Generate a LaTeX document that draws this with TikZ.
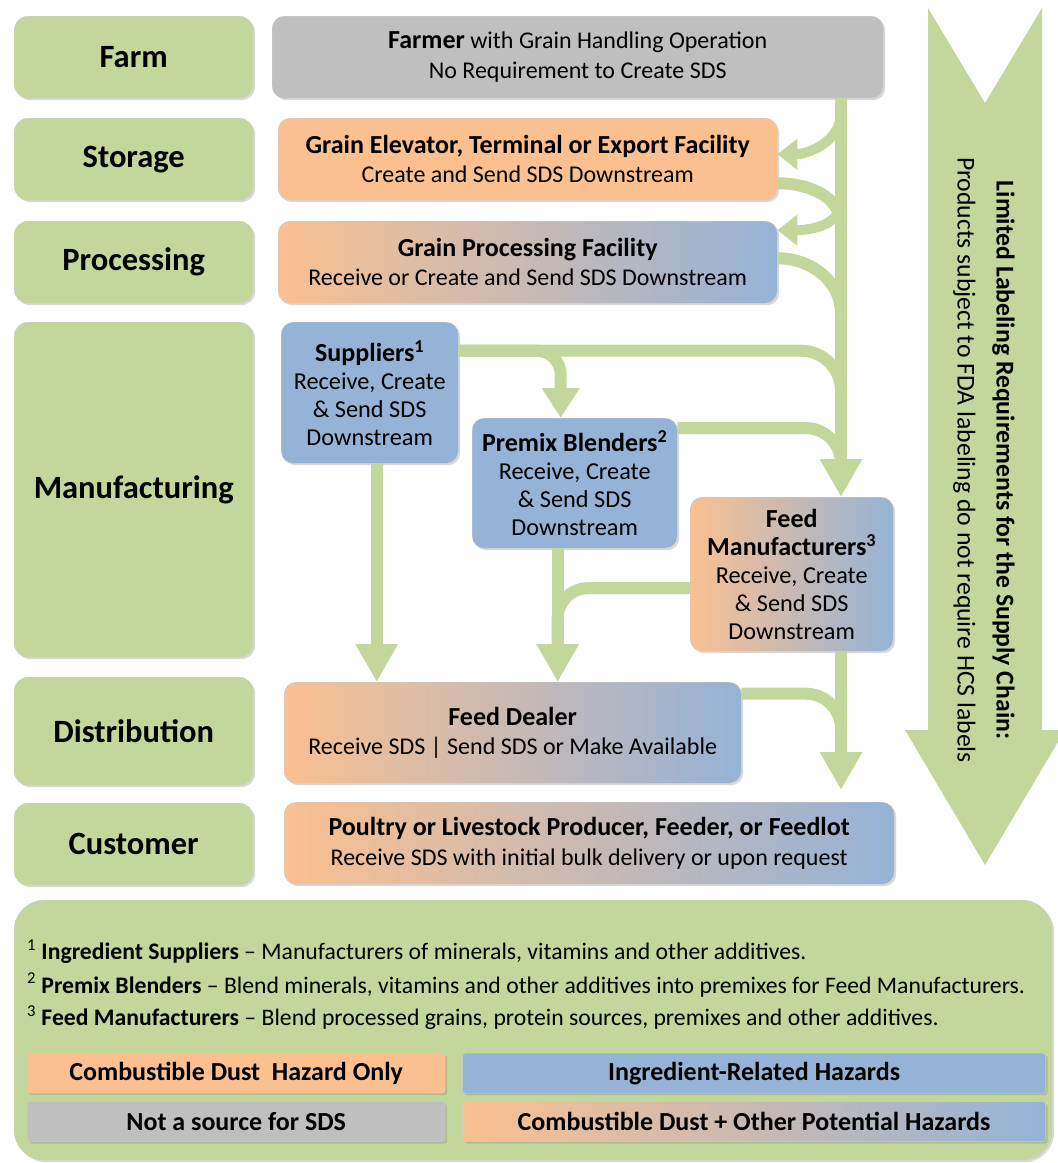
\documentclass[tikz,border=0pt]{standalone}
\usepackage{fontspec}
\setmainfont{Carlito}
\usetikzlibrary{positioning}
\usetikzlibrary{shadows}
\usetikzlibrary{arrows.meta}
\usetikzlibrary{calc}

\definecolor{stagegreen}{HTML}{C3D69B}
\definecolor{flowgreen}{HTML}{C3D69B}
\definecolor{dustorange}{HTML}{FAC090}
\definecolor{ingblue}{HTML}{95B3D7}
\definecolor{nosdsgray}{HTML}{BFBFBF}

\newcommand\hd[1]{{\fontsize{26}{29}\selectfont\bfseries #1}}

\tikzset{
  softshadow/.style={drop shadow={opacity=0.3, shadow xshift=2pt, shadow yshift=-2pt}},
  stage/.style={rectangle, draw=black!20, fill=stagegreen, rounded corners=14pt, minimum width=239pt, anchor=north west, font=\fontsize{32.5}{38}\selectfont\bfseries, softshadow},
  actor/.style={rectangle, draw=black!20, rounded corners=12pt, anchor=north west, align=center, inner sep=2pt, font=\fontsize{24}{29.5}\selectfont, softshadow},
  dustbox/.style={actor, fill=dustorange},
  ingbox/.style={actor, fill=ingblue},
  graybox/.style={actor, fill=nosdsgray},
  mixbox/.style={actor, left color=dustorange, right color=ingblue},
  keybox/.style={rectangle, draw=black!20, rounded corners=3pt, anchor=north west, minimum height=40pt, font=\fontsize{26}{30}\selectfont\bfseries, softshadow},
  note/.style={anchor=west, inner sep=0pt, font=\fontsize{23.7}{28}\selectfont},
  flowline/.style={draw=flowgreen, line width=12pt},
  flow/.style={flowline, -{Triangle[width=40pt,length=38pt]}},
  sideflow/.style={draw=flowgreen, line width=10pt, -{Triangle[width=30pt,length=20pt]}},
}

\begin{document}
\begin{tikzpicture}[x=1pt,y=1pt]

\newcommand\rowh{82pt}

\useasboundingbox (0,0) rectangle (1058,-1163);

% stages of the supply chain
\node at (14,-16) [stage, minimum height=\rowh] (farm) {Farm};
\node at (14,-118) [stage, minimum height=\rowh] (storage) {Storage};
\node at (14,-221) [stage, minimum height=\rowh] (processing) {Processing};
\node at (14,-322) [stage, minimum height=335pt] (manufacturing) {Manufacturing};
\node at (14,-677) [stage, minimum height=108pt] (distribution) {Distribution};
\node at (14,-803) [stage, minimum height=\rowh] (customer) {Customer};

% who does what
\node at (272,-16) [graybox, minimum width=611pt, minimum height=\rowh] (farmer) {\hd{Farmer} with Grain Handling Operation\\No Requirement to Create SDS};
\node at (278,-118) [dustbox, minimum width=499pt, minimum height=\rowh] (elevator) {\hd{Grain Elevator, Terminal or Export Facility}\\Create and Send SDS Downstream};
\node at (278,-221) [mixbox, minimum width=499pt, minimum height=\rowh] (grainproc) {\hd{Grain Processing Facility}\\Receive or Create and Send SDS Downstream};

\node at (281,-322) [ingbox, minimum width=177pt, minimum height=141pt, font=\fontsize{24.3}{28}\selectfont] (suppliers) {\hd{Suppliers\textsuperscript{1}}\\Receive, Create\\\& Send SDS\\Downstream};
\node at (472,-418) [ingbox, minimum width=205pt, minimum height=130pt, font=\fontsize{24.3}{28}\selectfont] (premix) {\hd{Premix Blenders\textsuperscript{2}}\\Receive, Create\\\& Send SDS\\Downstream};
\node at (690,-497) [mixbox, minimum width=203pt, minimum height=154pt, font=\fontsize{24.3}{28}\selectfont] (feedmfr) {\hd{Feed}\\\hd{Manufacturers\textsuperscript{3}}\\Receive, Create\\\& Send SDS\\Downstream};

\node at (284,-682) [mixbox, minimum width=457pt, minimum height=101pt] (dealer) {\hd{Feed Dealer}\\Receive SDS | Send SDS or Make Available};
\node at (284,-802) [mixbox, minimum width=610pt, minimum height=\rowh] (producer) {\hd{Poultry or Livestock Producer, Feeder, or Feedlot}\\Receive SDS with initial bulk delivery or upon request};

% big arrow on the right
\fill[flowgreen] (928,-8) -- (985,-103) -- (1042,-8) -- (1042,-730) -- (1058,-730) -- (1058,-742) -- (985,-865) -- (905,-730) -- (928,-730) -- cycle;
\node at (984,-460) [rotate=-90, align=center, font=\fontsize{25.7}{39}\selectfont] (limited) {\textbf{Limited Labeling Requirements for the Supply Chain:}\\Products subject to FDA labeling do not require HCS labels};

% flows
\coordinate (trunk) at (841,0);
\coordinate (supdrop) at ([xshift=7pt]suppliers.south);
\coordinate (premixdrop) at ([xshift=-17pt]premix.south);

\draw[flowline] ([yshift=-24pt]elevator.east) to[out=0,in=90] ($(elevator.south -| trunk)+(0,-25)$);
\draw[flowline] ([yshift=4pt]grainproc.east) to[out=0,in=90] ($(grainproc.south -| trunk)+(0,-10)$);
\draw[flowline, rounded corners=40pt] ([yshift=42pt]suppliers.east) -| ($(feedmfr.north -| trunk)+(0,40)$);
\draw[flowline, rounded corners=35pt] ([yshift=55pt]premix.east) -| ($(feedmfr.north -| trunk)+(0,25)$);
\draw[flowline, rounded corners=30pt] ([yshift=-14pt]feedmfr.west) -| ($(premixdrop)+(0,-100)$);
\draw[flowline, rounded corners=35pt] ([yshift=39pt]dealer.east) -| ($(producer.north -| trunk)+(0,35)$);

\draw[flow] (farmer.south -| trunk) -- (feedmfr.north -| trunk);
\draw[sideflow] ($(farmer.south -| trunk)+(0,-14)$) to[out=-90,in=0] ([yshift=5pt]elevator.east);
\draw[sideflow] (elevator.south -| trunk) to[out=-90,in=0] ([yshift=32pt]grainproc.east);
\draw[flow, -{Triangle[width=36pt,length=30pt]}, rounded corners=24pt] ([yshift=42pt]suppliers.east) -| ([xshift=-14pt]premix.north);
\draw[flow] (supdrop) -- (supdrop |- dealer.north);
\draw[flow] (premixdrop) -- (premixdrop |- dealer.north);
\draw[flow, shorten >=12pt] (feedmfr.south -| trunk) -- (producer.north -| trunk);

% footnotes and key
\node at (14,-900) [rectangle, draw=black!20, fill=stagegreen, rounded corners=30pt, minimum width=1038pt, minimum height=260pt, anchor=north west, softshadow] (legend) {};

\node at (27,-952) [note] (fnsup) {\textsuperscript{1} \textbf{Ingredient Suppliers} -- Manufacturers of minerals, vitamins and other additives.};
\node at (27,-985) [note] (fnpremix) {\textsuperscript{2} \textbf{Premix Blenders} -- Blend minerals, vitamins and other additives into premixes for Feed Manufacturers.};
\node at (27,-1018) [note] (fnfeed) {\textsuperscript{3} \textbf{Feed Manufacturers} -- Blend processed grains, protein sources, premixes and other additives.};

\node at (27,-1053) [keybox, fill=dustorange, minimum width=418pt] (dustonly) {Combustible Dust~~Hazard Only};
\node [keybox, fill=ingblue, minimum width=583pt, right=17pt of dustonly] (ingredient) {Ingredient-Related Hazards};
\node [keybox, fill=nosdsgray, minimum width=418pt, below=8pt of dustonly] (notsource) {Not a source for SDS};
\node [keybox, left color=dustorange, right color=ingblue, minimum width=583pt, right=17pt of notsource] (dustplus) {Combustible Dust + Other Potential Hazards};

\end{tikzpicture}
\end{document}
